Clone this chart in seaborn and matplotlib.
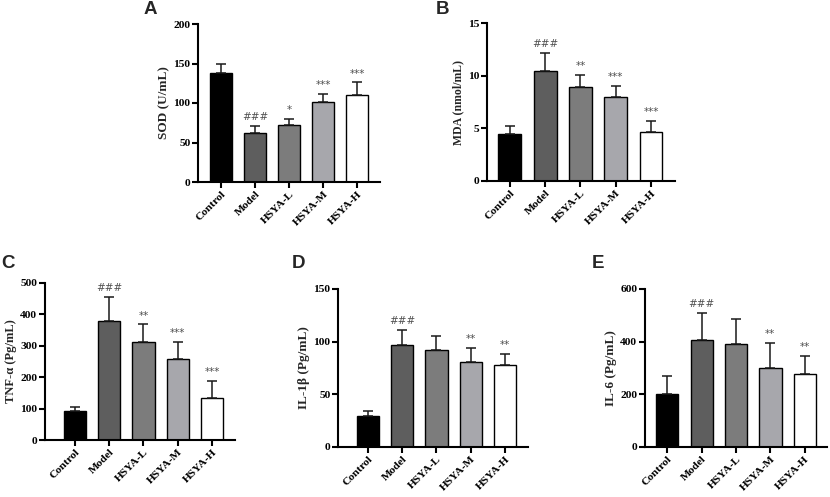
import numpy as np
import pandas as pd
import matplotlib
matplotlib.use("Agg")
import matplotlib.pyplot as plt
import matplotlib.transforms as mtransforms
import seaborn as sns

groups = ["Control", "Model", "HSYA-L", "HSYA-M", "HSYA-H"]
colors = ["#000000", "#5e5e5e", "#7c7c7c", "#a7a7ac", "#ffffff"]

sod_mean = [138, 62, 72, 101, 110]
sod_err = [12, 9, 8, 11, 16]
sod_sig = ["", "###", "*", "***", "***"]

mda_mean = [4.5, 10.45, 8.95, 7.95, 4.7]
mda_err = [0.75, 1.7, 1.1, 1.05, 1.05]
mda_sig = ["", "###", "**", "***", "***"]

tnf_mean = [93, 378, 313, 257, 135]
tnf_err = [13, 77, 55, 54, 54]
tnf_sig = ["", "###", "**", "***", "***"]

il1b_mean = [29.5, 96.7, 92, 81, 78]
il1b_err = [4.5, 14, 13, 13, 10]
il1b_sig = ["", "###", "", "**", "**"]

il6_mean = [200, 407, 393, 299, 278]
il6_err = [71, 102, 94, 96, 66]
il6_sig = ["", "###", "", "**", "**"]

panels = [
    dict(letter="A", mean=sod_mean, err=sod_err, sig=sod_sig, ylabel="SOD (U/mL)",
         ylim=200, ticks=[0, 50, 100, 150, 200], box=(198, 380, 24, 182), xlim=(-0.68, 4.67),
         lpos=(144, 1), ylfs=9.5),
    dict(letter="B", mean=mda_mean, err=mda_err, sig=mda_sig, ylabel="MDA (nmol/mL)",
         ylim=15, ticks=[0, 5, 10, 15], box=(487, 675, 23.3, 181), xlim=(-0.65, 4.68),
         lpos=(436, 1), ylfs=8.5),
    dict(letter="C", mean=tnf_mean, err=tnf_err, sig=tnf_sig, ylabel="TNF-α (Pg/mL)",
         ylim=500, ticks=[0, 100, 200, 300, 400, 500], box=(45, 235, 283, 440), xlim=(-0.87, 4.67),
         lpos=(1, 255), ylfs=9),
    dict(letter="D", mean=il1b_mean, err=il1b_err, sig=il1b_sig, ylabel="IL-1β (Pg/mL)",
         ylim=150, ticks=[0, 50, 100, 150], box=(338, 528, 289, 447), xlim=(-0.87, 4.67),
         lpos=(292, 255), ylfs=9.5),
    dict(letter="E", mean=il6_mean, err=il6_err, sig=il6_sig, ylabel="IL-6 (Pg/mL)",
         ylim=600, ticks=[0, 200, 400, 600], box=(645, 827, 289, 447), xlim=(-0.65, 4.65),
         lpos=(592, 255), ylfs=9.5),
]

sns.set_theme(style="ticks")
plt.rcParams["font.family"] = ["Liberation Serif", "DejaVu Serif"]

W, H = 830, 497
fig = plt.figure(figsize=(W / 100, H / 100), dpi=100)
shift = mtransforms.ScaledTranslation(3 / 100, 3 / 100, fig.dpi_scale_trans)

for p in panels:
    l, r, t, b = p["box"]
    ax = fig.add_axes([l / W, (H - b) / H, (r - l) / W, (b - t) / H])
    df = pd.DataFrame({"group": groups, "value": p["mean"]})
    sns.barplot(data=df, x="group", y="value", hue="group", palette=colors,
                order=groups, hue_order=groups, legend=False, width=0.65,
                edgecolor="black", linewidth=1.0, ax=ax, saturation=1)
    xs = np.arange(len(groups))
    ax.errorbar(xs, p["mean"], yerr=[np.zeros(len(groups)), p["err"]], fmt="none",
                ecolor="#1a1a1a", elinewidth=1.1, capsize=3.6, capthick=1.1, zorder=1)
    rng = p["ylim"]
    for x, m, e, s in zip(xs, p["mean"], p["err"], p["sig"]):
        if s:
            ax.text(x, m + e + rng * 0.025, s, ha="center", va="bottom",
                    fontsize=7.5, color="#505050", family=["DejaVu Sans"])
    ax.set_ylim(0, rng)
    ax.set_xlim(*p["xlim"])
    ax.set_yticks(p["ticks"])
    ax.set_xticks(xs)
    ax.set_xticklabels(groups, rotation=45, ha="right", rotation_mode="anchor",
                       fontsize=8.2, fontweight="bold")
    for lab in ax.get_xticklabels():
        lab.set_transform(lab.get_transform() + shift)
    for lab in ax.get_yticklabels():
        lab.set_fontsize(8.2)
        lab.set_fontweight("bold")
    ax.set_xlabel("")
    ax.set_ylabel(p["ylabel"], fontsize=p["ylfs"], fontweight="bold", labelpad=2.5)
    sns.despine(ax=ax)
    for sp in ["left", "bottom"]:
        ax.spines[sp].set_linewidth(1.5)
        ax.spines[sp].set_color("black")
    ax.tick_params(axis="both", direction="out", length=4.5, width=1.5, color="black",
                   pad=1, labelcolor="black")
    fig.text(p["lpos"][0] / W, 1 - p["lpos"][1] / H, p["letter"], ha="left", va="top",
             fontsize=13.5, fontweight="bold", family=["Liberation Sans"])

fig.savefig("out.png", dpi=100, facecolor="white")
